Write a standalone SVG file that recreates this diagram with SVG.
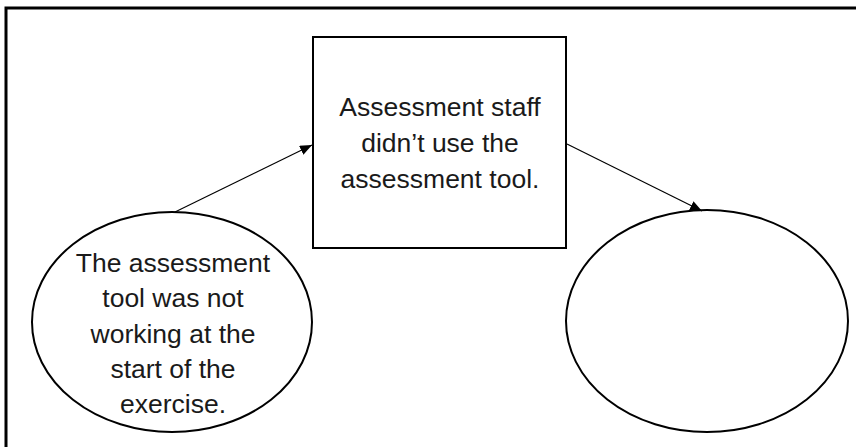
<svg xmlns="http://www.w3.org/2000/svg" width="856" height="447" viewBox="0 0 856 447">
<defs>
<style>
.shape{fill:#fff;stroke:#000;stroke-width:2}
.lbl{font-family:"Liberation Sans",Arial,sans-serif;font-size:26.5px;fill:#1a1a1a;text-anchor:middle}
.conn{stroke:#000;stroke-width:1.2;fill:none;marker-end:url(#ah)}
</style>
<marker id="ah" viewBox="0 0 12 10" refX="12" refY="5" markerWidth="12" markerHeight="10" markerUnits="userSpaceOnUse" orient="auto">
<path d="M0,0 L12,5 L0,10 z" fill="#000"/>
</marker>
</defs>
<rect width="856" height="447" fill="#fff"/>
<g id="frame" fill="none" stroke="#000" stroke-width="3">
<path d="M6,447 V8 H856"/>
</g>
<g id="box">
<rect class="shape" x="313" y="37" width="253" height="211"/>
<text class="lbl" x="440" y="116">Assessment staff</text>
<text class="lbl" x="440" y="152">didn’t use the</text>
<text class="lbl" x="440" y="188">assessment tool.</text>
</g>
<g id="cause">
<ellipse class="shape" cx="172" cy="322" rx="140" ry="110"/>
<text class="lbl" x="173" y="272">The assessment</text>
<text class="lbl" x="173" y="307">tool was not</text>
<text class="lbl" x="173" y="343">working at the</text>
<text class="lbl" x="173" y="378">start of the</text>
<text class="lbl" x="173" y="413">exercise.</text>
</g>
<g id="effect">
<ellipse class="shape" cx="707" cy="321" rx="141" ry="111"/>
</g>
<g id="connectors">
<line class="conn" x1="175" y1="212" x2="312" y2="145"/>
<line class="conn" x1="567" y1="144" x2="702" y2="211"/>
</g>
</svg>
